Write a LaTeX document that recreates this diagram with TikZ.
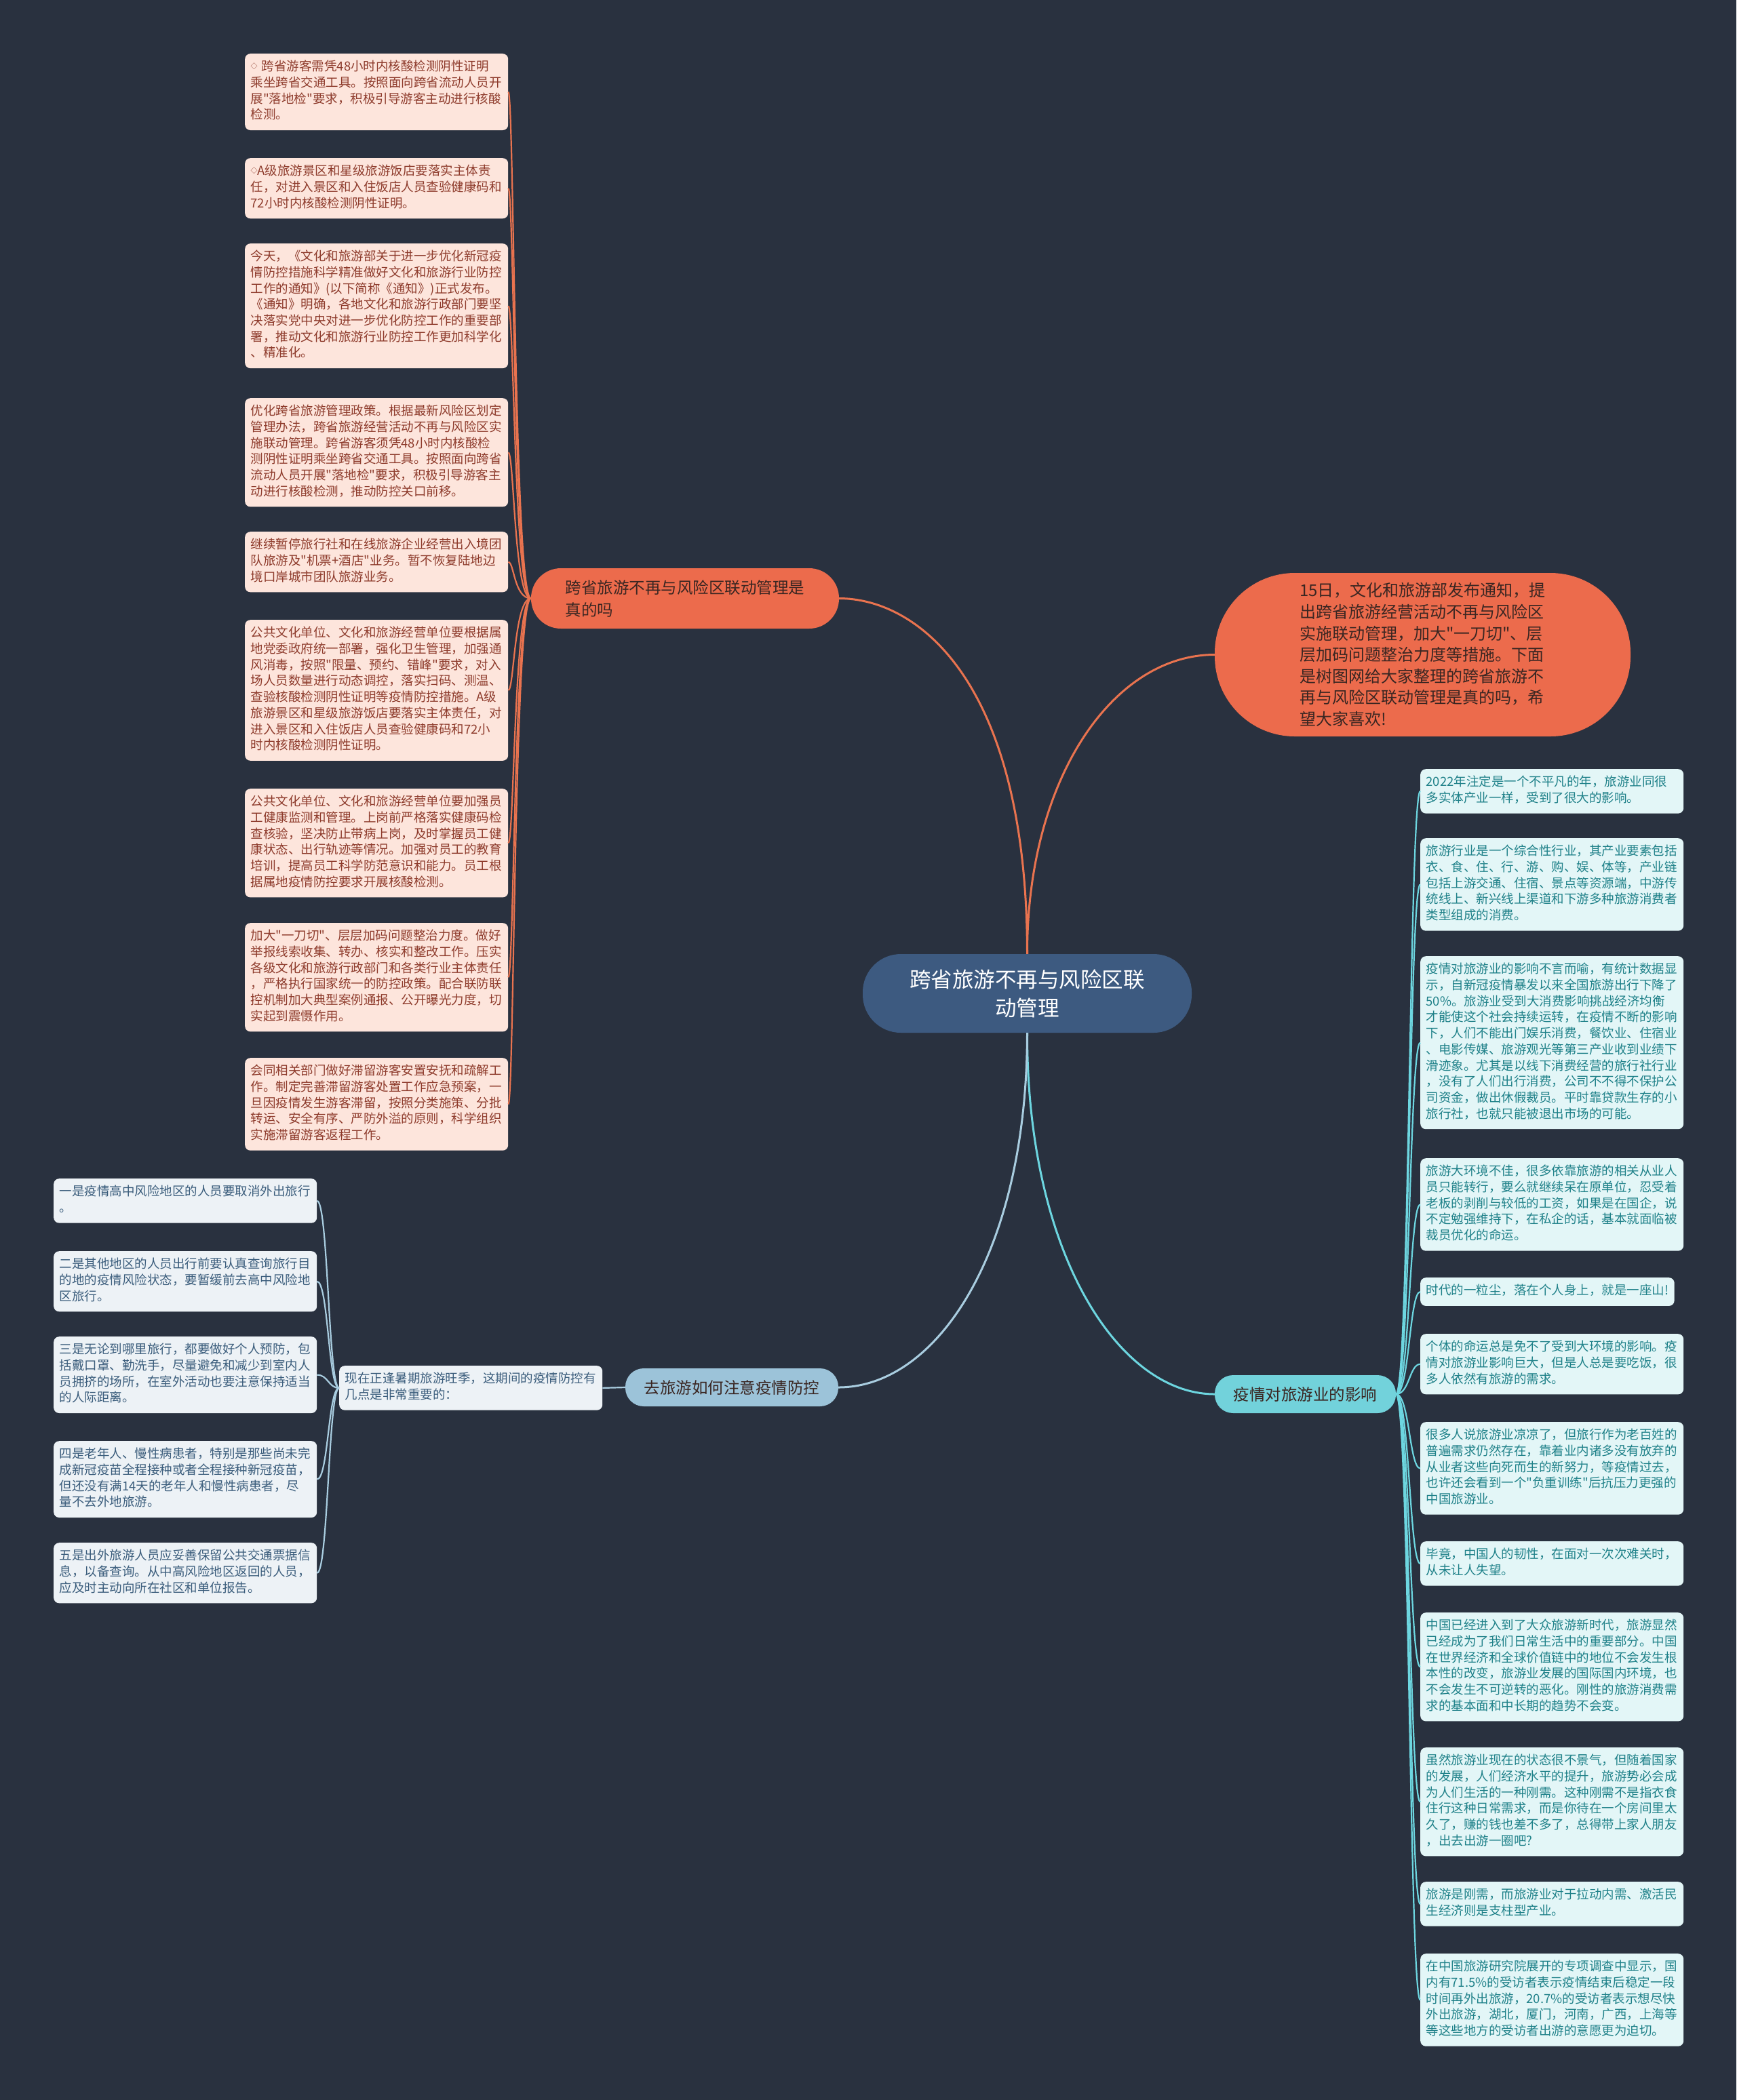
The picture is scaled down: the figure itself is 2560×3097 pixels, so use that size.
\documentclass[tikz,border=0pt]{standalone}
\usepackage{fontspec}
\setmainfont{Noto Sans CJK SC}[Ligatures=TeXOff]

\definecolor{bgcol}{HTML}{29313F}
\definecolor{rootfill}{HTML}{3D5A80}
\definecolor{orangefill}{HTML}{EC6B4C}
\definecolor{orangeline}{HTML}{E9734F}
\definecolor{darktext}{HTML}{3A2622}
\definecolor{peachfill}{HTML}{FDE5DC}
\definecolor{peachtext}{HTML}{8E3B2C}
\definecolor{cyanfill}{HTML}{72D2DB}
\definecolor{cyanline}{HTML}{6DD6E0}
\definecolor{mintfill}{HTML}{E3F6F7}
\definecolor{minttext}{HTML}{1F8189}
\definecolor{bluefill}{HTML}{9CC3D9}
\definecolor{blueline}{HTML}{A9CDE0}
\definecolor{greyfill}{HTML}{EDF2F6}
\definecolor{greytext}{HTML}{3B5D7C}

\tikzset{
  root/.style={fill=rootfill, text=white, rounded corners=56pt,
    minimum width=485pt, minimum height=116pt, align=center,
    font=\fontsize{31.5}{42}\selectfont},
  branch/.style={rounded corners=27pt, minimum height=56pt, align=left,
    font=\fontsize{23.5}{33}\selectfont},
  leafbase/.style={anchor=north west, rounded corners=8pt, inner xsep=8.5pt,
    inner ysep=9pt, align=left, font=\fontsize{18.5}{23.7}\selectfont,
    execute at begin node=\strut, execute at end node=\strut},
  redleaf/.style={leafbase, text width=371pt, fill=peachfill, text=peachtext},
  cyanshort/.style={leafbase, fill=mintfill, text=minttext},
  cyanleaf/.style={cyanshort, text width=371pt},
  greyleaf/.style={leafbase, text width=371pt, fill=greyfill, text=greytext},
  mainlink/.style={line width=3pt},
  leaflink/.style={line width=2.2pt}
}
\newcommand{\smalldiamond}{\raisebox{3pt}{\fontsize{10}{10}\selectfont ◇}}

\begin{document}
\begin{tikzpicture}[x=1pt,y=-1pt]
  % page
  \fill[bgcol] (0,0) rectangle (2560,3097);
  \useasboundingbox (0,0) rectangle (2560,3097);

  % centre topic
  \node[root] (topic) at (1514.5,1465) {跨省旅游不再与风险区联\\动管理};

  % main branches
  \node[branch, fill=orangefill, text=darktext, minimum width=454pt,
    minimum height=89pt, rounded corners=44pt] (rumour) at (1010,882.5)
    {跨省旅游不再与风险区联动管理是\\真的吗};
  \node[fill=orangefill, text=darktext, minimum width=613pt, minimum height=241pt,
    rounded corners=118pt, align=left, font=\fontsize{24}{31.6}\selectfont]
    (intro) at (2097.5,965.5)
    {15日，文化和旅游部发布通知，提\\出跨省旅游经营活动不再与风险区\\实施联动管理，加大"一刀切"、层\\层加码问题整治力度等措施。下面\\是树图网给大家整理的跨省旅游不\\再与风险区联动管理是真的吗，希\\望大家喜欢!};
  \node[branch, fill=cyanfill, text=darktext, minimum width=267pt]
    (impact) at (1924.5,2056) {疫情对旅游业的影响};
  \node[branch, fill=bluefill, text=darktext, minimum width=314pt]
    (tips) at (1079,2046) {去旅游如何注意疫情防控};

  % policy boxes
  \node[redleaf] (p1) at (361,79) {\smalldiamond\ 跨省游客需凭48小时内核酸检测阴性证明\\乘坐跨省交通工具。按照面向跨省流动人员开\\展"落地检"要求，积极引导游客主动进行核酸\\检测。};
  \node[redleaf] (p2) at (361,233) {\smalldiamond A级旅游景区和星级旅游饭店要落实主体责\\任，对进入景区和入住饭店人员查验健康码和\\72小时内核酸检测阴性证明。};
  \node[redleaf] (p3) at (361,359) {今天，《文化和旅游部关于进一步优化新冠疫\\情防控措施科学精准做好文化和旅游行业防控\\工作的通知》(以下简称《通知》)正式发布。\\《通知》明确，各地文化和旅游行政部门要坚\\决落实党中央对进一步优化防控工作的重要部\\署，推动文化和旅游行业防控工作更加科学化\\、精准化。};
  \node[redleaf] (p4) at (361,587) {优化跨省旅游管理政策。根据最新风险区划定\\管理办法，跨省旅游经营活动不再与风险区实\\施联动管理。跨省游客须凭48小时内核酸检\\测阴性证明乘坐跨省交通工具。按照面向跨省\\流动人员开展"落地检"要求，积极引导游客主\\动进行核酸检测，推动防控关口前移。};
  \node[redleaf] (p5) at (361,784) {继续暂停旅行社和在线旅游企业经营出入境团\\队旅游及"机票+酒店"业务。暂不恢复陆地边\\境口岸城市团队旅游业务。};
  \node[redleaf] (p6) at (361,914) {公共文化单位、文化和旅游经营单位要根据属\\地党委政府统一部署，强化卫生管理，加强通\\风消毒，按照"限量、预约、错峰"要求，对入\\场人员数量进行动态调控，落实扫码、测温、\\查验核酸检测阴性证明等疫情防控措施。A级\\旅游景区和星级旅游饭店要落实主体责任，对\\进入景区和入住饭店人员查验健康码和72小\\时内核酸检测阴性证明。};
  \node[redleaf] (p7) at (361,1163) {公共文化单位、文化和旅游经营单位要加强员\\工健康监测和管理。上岗前严格落实健康码检\\查核验，坚决防止带病上岗，及时掌握员工健\\康状态、出行轨迹等情况。加强对员工的教育\\培训，提高员工科学防范意识和能力。员工根\\据属地疫情防控要求开展核酸检测。};
  \node[redleaf] (p8) at (361,1361) {加大"一刀切"、层层加码问题整治力度。做好\\举报线索收集、转办、核实和整改工作。压实\\各级文化和旅游行政部门和各类行业主体责任\\，严格执行国家统一的防控政策。配合联防联\\控机制加大典型案例通报、公开曝光力度，切\\实起到震慑作用。};
  \node[redleaf] (p9) at (361,1560) {会同相关部门做好滞留游客安置安抚和疏解工\\作。制定完善滞留游客处置工作应急预案，一\\旦因疫情发生游客滞留，按照分类施策、分批\\转运、安全有序、严防外溢的原则，科学组织\\实施滞留游客返程工作。};

  % impact boxes
  \node[cyanleaf] (e1) at (2094,1134) {2022年注定是一个不平凡的年，旅游业同很\\多实体产业一样，受到了很大的影响。};
  \node[cyanleaf] (e2) at (2094,1236) {旅游行业是一个综合性行业，其产业要素包括\\衣、食、住、行、游、购、娱、体等，产业链\\包括上游交通、住宿、景点等资源端，中游传\\统线上、新兴线上渠道和下游多种旅游消费者\\类型组成的消费。};
  \node[cyanleaf] (e3) at (2094,1410) {疫情对旅游业的影响不言而喻，有统计数据显\\示，自新冠疫情暴发以来全国旅游出行下降了\\50\%。旅游业受到大消费影响挑战经济均衡\\才能使这个社会持续运转，在疫情不断的影响\\下，人们不能出门娱乐消费，餐饮业、住宿业\\、电影传媒、旅游观光等第三产业收到业绩下\\滑迹象。尤其是以线下消费经营的旅行社行业\\，没有了人们出行消费，公司不不得不保护公\\司资金，做出休假裁员。平时靠贷款生存的小\\旅行社，也就只能被退出市场的可能。};
  \node[cyanleaf] (e4) at (2094,1708) {旅游大环境不佳，很多依靠旅游的相关从业人\\员只能转行，要么就继续呆在原单位，忍受着\\老板的剥削与较低的工资，如果是在国企，说\\不定勉强维持下，在私企的话，基本就面临被\\裁员优化的命运。};
  \node[cyanshort] (e5) at (2094,1884) {时代的一粒尘，落在个人身上，就是一座山!};
  \node[cyanleaf] (e6) at (2094,1967) {个体的命运总是免不了受到大环境的影响。疫\\情对旅游业影响巨大，但是人总是要吃饭，很\\多人依然有旅游的需求。};
  \node[cyanleaf] (e7) at (2094,2097) {很多人说旅游业凉凉了，但旅行作为老百姓的\\普遍需求仍然存在，靠着业内诸多没有放弃的\\从业者这些向死而生的新努力，等疫情过去，\\也许还会看到一个"负重训练"后抗压力更强的\\中国旅游业。};
  \node[cyanleaf] (e8) at (2094,2273) {毕竟，中国人的韧性，在面对一次次难关时，\\从未让人失望。};
  \node[cyanleaf] (e9) at (2094,2378) {中国已经进入到了大众旅游新时代，旅游显然\\已经成为了我们日常生活中的重要部分。中国\\在世界经济和全球价值链中的地位不会发生根\\本性的改变，旅游业发展的国际国内环境，也\\不会发生不可逆转的恶化。刚性的旅游消费需\\求的基本面和中长期的趋势不会变。};
  \node[cyanleaf] (e10) at (2094,2577) {虽然旅游业现在的状态很不景气，但随着国家\\的发展，人们经济水平的提升，旅游势必会成\\为人们生活的一种刚需。这种刚需不是指衣食\\住行这种日常需求，而是你待在一个房间里太\\久了，赚的钱也差不多了，总得带上家人朋友\\，出去出游一圈吧?};
  \node[cyanleaf] (e11) at (2094,2775) {旅游是刚需，而旅游业对于拉动内需、激活民\\生经济则是支柱型产业。};
  \node[cyanleaf] (e12) at (2094,2881) {在中国旅游研究院展开的专项调查中显示，国\\内有71.5\%的受访者表示疫情结束后稳定一段\\时间再外出旅游，20.7\%的受访者表示想尽快\\外出旅游，湖北，厦门，河南，广西，上海等\\等这些地方的受访者出游的意愿更为迫切。};

  % travel tips
  \node[greyleaf] (season) at (500,2014) {现在正逢暑期旅游旺季，这期间的疫情防控有\\几点是非常重要的：};
  \node[greyleaf] (t1) at (79,1738) {一是疫情高中风险地区的人员要取消外出旅行\\。};
  \node[greyleaf] (t2) at (79,1845) {二是其他地区的人员出行前要认真查询旅行目\\的地的疫情风险状态，要暂缓前去高中风险地\\区旅行。};
  \node[greyleaf] (t3) at (79,1971) {三是无论到哪里旅行，都要做好个人预防，包\\括戴口罩、勤洗手，尽量避免和减少到室内人\\员拥挤的场所，在室外活动也要注意保持适当\\的人际距离。};
  \node[greyleaf] (t4) at (79,2125) {四是老年人、慢性病患者，特别是那些尚未完\\成新冠疫苗全程接种或者全程接种新冠疫苗，\\但还没有满14天的老年人和慢性病患者，尽\\量不去外地旅游。};
  \node[greyleaf] (t5) at (79,2275) {五是出外旅游人员应妥善保留公共交通票据信\\息，以备查询。从中高风险地区返回的人员，\\应及时主动向所在社区和单位报告。};

  % links from the centre
  \draw[mainlink, orangeline] (topic.north) .. controls (1514,1000) and (1350,882.5) .. (rumour.east);
  \draw[mainlink, orangeline] (topic.north) .. controls (1514,1150) and (1640,965.5) .. (intro.west);
  \draw[mainlink, cyanline] (topic.south) .. controls (1514,1850) and (1650,2056) .. (impact.west);
  \draw[mainlink, blueline] (topic.south) .. controls (1514,1850) and (1380,2046) .. (tips.east);

  % leaf links
  \coordinate (lt) at (758,0);
  \coordinate (rt) at (2078,0);
  \coordinate (bt) at (484,0);
  \foreach \i in {1,...,9}
    \draw[leaflink, orangeline] (rumour.west) .. controls (lt |- rumour.west) and (lt |- p\i.east) .. (p\i.east);
  \foreach \i in {1,...,12}
    \draw[leaflink, cyanline] (impact.east) .. controls (rt |- impact.east) and (rt |- e\i.west) .. (e\i.west);
  \draw[leaflink, blueline] (tips.west) -- (season.east);
  \foreach \i in {1,...,5}
    \draw[leaflink, blueline] (season.west) .. controls (bt |- season.west) and (bt |- t\i.east) .. (t\i.east);
\end{tikzpicture}
\end{document}
